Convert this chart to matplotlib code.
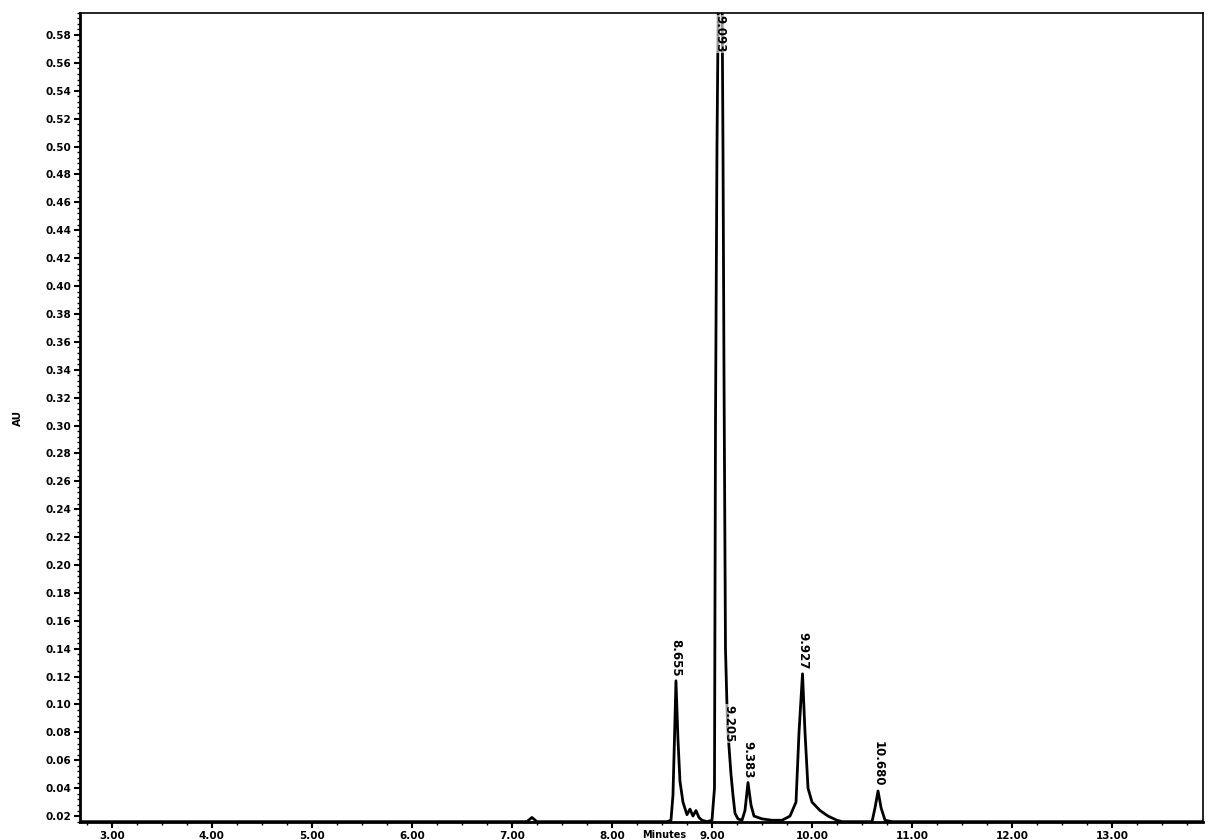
import numpy as np
import matplotlib.pyplot as plt
from matplotlib.ticker import MultipleLocator

# chromatogram trace (minutes, AU)
time_min = [2.68, 7.15, 7.20, 7.25, 8.55, 8.59, 8.61, 8.625, 8.64, 8.66, 8.68, 8.71,
            8.75, 8.78, 8.81, 8.84, 8.87, 8.90, 8.95, 9.00, 9.025, 9.035, 9.05, 9.065,
            9.10, 9.11, 9.12, 9.135, 9.155, 9.17, 9.19, 9.21, 9.23, 9.26, 9.30, 9.33, 9.36,
            9.39, 9.42, 9.50, 9.60, 9.70, 9.78, 9.84, 9.87, 9.905, 9.93, 9.96, 10.00,
            10.08, 10.16, 10.25, 10.30, 10.60, 10.63, 10.66, 10.69, 10.73, 10.80, 13.91]
absorb = [0.016, 0.016, 0.019, 0.016, 0.016, 0.017, 0.035, 0.075, 0.117, 0.075, 0.045, 0.030,
          0.021, 0.025, 0.020, 0.024, 0.019, 0.017, 0.016, 0.017, 0.040, 0.30, 0.50, 0.62,
          0.62, 0.50, 0.34, 0.14, 0.085, 0.070, 0.050, 0.035, 0.022, 0.018, 0.017, 0.024, 0.044,
          0.028, 0.020, 0.018, 0.017, 0.017, 0.020, 0.030, 0.080, 0.122, 0.080, 0.040, 0.030,
          0.024, 0.020, 0.017, 0.016, 0.016, 0.026, 0.038, 0.026, 0.017, 0.016, 0.016]

# peak annotations
peak_rt = [8.64, 9.08, 9.17, 9.36, 9.905, 10.66]
peak_top = [0.117, 0.596, 0.070, 0.044, 0.122, 0.038]
peak_lbl = ['8.655', '9.093', '9.205', '9.383', '9.927', '10.680']

fig = plt.figure(figsize=(12.08, 8.4), dpi=100)
ax = fig.add_axes([0.066, 0.021, 0.93, 0.964])

ax.plot(time_min, absorb, color='black', lw=2)

for rt, top, lbl in zip(peak_rt, peak_top, peak_lbl):
    if top > 0.5:
        y = 0.594
        va = 'top'
    else:
        y = top + 0.003
        va = 'bottom'
    ax.text(rt, y, lbl, rotation=-90, ha='center', va=va, fontsize=8.5,
            fontweight='bold', color='black',
            bbox=dict(facecolor='white', edgecolor='none', pad=0.5, alpha=0.6))

ax.set_xlim(2.68, 13.91)
ax.set_ylim(0.0155, 0.596)
ax.xaxis.set_major_locator(MultipleLocator(1.0))
ax.xaxis.set_minor_locator(MultipleLocator(0.25))
ax.yaxis.set_major_locator(MultipleLocator(0.02))
ax.yaxis.set_minor_locator(MultipleLocator(0.004))
ax.xaxis.set_major_formatter(plt.FuncFormatter(lambda v, p: f'{v:.2f}'))
ax.yaxis.set_major_formatter(plt.FuncFormatter(lambda v, p: f'{v:.2f}'))

ax.tick_params(axis='both', which='major', labelsize=7.5, length=4, width=1.5, pad=2)
ax.tick_params(axis='both', which='minor', length=2, width=1)
for lab in ax.get_xticklabels() + ax.get_yticklabels():
    lab.set_fontweight('bold')
for s in ax.spines.values():
    s.set_linewidth(1.2)
ax.spines['left'].set_linewidth(2)
ax.spines['bottom'].set_linewidth(2)

ax.set_ylabel('AU', fontsize=7.5, fontweight='bold', labelpad=16)
fig.text(0.55, 0.0, 'Minutes', fontsize=7, fontweight='bold', ha='center', va='bottom')

fig.savefig('out.png', dpi=100)
